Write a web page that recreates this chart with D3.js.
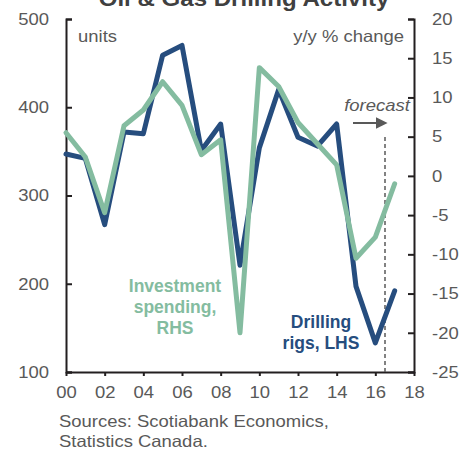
<!DOCTYPE html>
<html lang="en">
<head>
<meta charset="utf-8">
<title>Oil & Gas Drilling Activity</title>
<script src="https://d3js.org/d3.v7.min.js"></script>
<style>
  body { margin: 0; background: #fff; }
  svg text { font-family: "Liberation Sans", Arial, sans-serif; }
  .axis path, .axis line { stroke: #231f20; stroke-width: 2; fill: none; }
  .axis text { font-size: 16.5px; fill: #595959; }
</style>
</head>
<body>
<script>
// years 2000..2017
var years = [2000, 2001, 2002, 2003, 2004, 2005, 2006, 2007, 2008,
             2009, 2010, 2011, 2012, 2013, 2014, 2015, 2016, 2017];
// drilling rigs, units (LHS)
var rigs = [347, 342, 267, 372, 370, 459, 470, 351, 381,
            221, 354, 420, 366, 356, 381, 197, 133, 192];
// investment spending, y/y % change (RHS)
var invest = [5.5, 2.4, -4.7, 6.4, 8.4, 12.0, 9.0, 2.7, 4.6,
              -20.0, 13.8, 11.4, 6.8, 4.1, 1.4, -10.5, -7.8, -1.0];
var xTicks = [2000, 2002, 2004, 2006, 2008, 2010, 2012, 2014, 2016, 2018];
var leftTicks = [100, 200, 300, 400, 500];
var rightTicks = [-25, -20, -15, -10, -5, 0, 5, 10, 15, 20];
var forecastYear = 2016.5;

var W = 459, H = 449;
var m = {left: 66, right: 414, top: 19, bottom: 372};
var K = 1.12; // the original text is a bit wider than Arial

var svg = d3.select("body").append("svg")
    .attr("width", W).attr("height", H);

var x = d3.scaleLinear().domain([2000, 2018]).range([m.left, m.right]);
var yL = d3.scaleLinear().domain([100, 500]).range([m.bottom, m.top]);
var yR = d3.scaleLinear().domain([-25, 20]).range([m.bottom, m.top]);

// widen a text around its own anchor point
function stretch(sel) {
    sel.each(function() {
        var t = d3.select(this);
        var tx = +t.attr("x") || 0, ty = +t.attr("y") || 0;
        t.attr("x", 0).attr("y", 0)
         .attr("transform", "translate(" + tx + "," + ty + ") scale(" + K + ",1)");
    });
}

function label(px, py, s, anchor) {
    return svg.append("text").attr("x", px).attr("y", py)
        .attr("text-anchor", anchor || "start")
        .style("font-size", "16.5px").style("fill", "#595959")
        .text(s).call(stretch);
}

// title (cut off at top in the original)
svg.append("text")
    .attr("x", 244).attr("y", 6)
    .attr("text-anchor", "middle")
    .style("font-size", "21.5px").style("font-weight", "bold")
    .style("fill", "#404040")
    .text("Oil & Gas Drilling Activity")
    .call(stretch);

// axes
svg.append("g").attr("class", "axis")
    .attr("transform", "translate(" + m.left + ",0)")
    .call(d3.axisRight(yL).tickValues(leftTicks).tickSize(6).tickSizeOuter(6))
    .call(function(g) {
        g.selectAll("text").attr("x", -17).attr("text-anchor", "end").call(stretch);
    });

svg.append("g").attr("class", "axis")
    .attr("transform", "translate(" + m.right + ",0)")
    .call(d3.axisLeft(yR).tickValues(rightTicks).tickSize(6).tickSizeOuter(6)
        .tickFormat(function(d) { return String(d); }))
    .call(function(g) {
        g.selectAll("text").attr("x", 18).attr("text-anchor", "start").call(stretch);
    });

svg.append("g").attr("class", "axis")
    .attr("transform", "translate(0," + m.bottom + ")")
    .call(d3.axisBottom(x).tickValues(xTicks).tickSize(4).tickSizeOuter(0)
        .tickFormat(function(d) { return d3.format("02")(d % 100); }))
    .call(function(g) {
        g.selectAll("text").attr("y", 14).call(stretch);
    });

// unit labels
label(78, 42, "units");
label(404, 42, "y/y % change", "end");

// forecast marker
svg.append("line")
    .attr("x1", x(forecastYear)).attr("x2", x(forecastYear))
    .attr("y1", 137).attr("y2", m.bottom)
    .attr("stroke", "#595959").attr("stroke-width", 1.5)
    .attr("stroke-dasharray", "4,3");
svg.append("defs").append("marker")
    .attr("id", "arr").attr("viewBox", "0 0 10 10")
    .attr("refX", 2).attr("refY", 5)
    .attr("markerWidth", 6).attr("markerHeight", 6)
    .attr("orient", "auto")
    .append("path").attr("d", "M0,0L10,5L0,10Z").attr("fill", "#595959");
svg.append("line")
    .attr("x1", 353).attr("x2", 378).attr("y1", 123).attr("y2", 123)
    .attr("stroke", "#595959").attr("stroke-width", 2)
    .attr("marker-end", "url(#arr)");
label(377, 111, "forecast", "middle").style("font-style", "italic");

// lines
var blue = "#264d7e", green = "#84bca0";
var lineL = d3.line().x(function(d, i) { return x(years[i]); }).y(function(d) { return yL(d); });
var lineR = d3.line().x(function(d, i) { return x(years[i]); }).y(function(d) { return yR(d); });

svg.append("path").datum(rigs)
    .attr("d", lineL).attr("fill", "none")
    .attr("stroke", blue).attr("stroke-width", 5)
    .attr("stroke-linejoin", "round").attr("stroke-linecap", "round");
svg.append("path").datum(invest)
    .attr("d", lineR).attr("fill", "none")
    .attr("stroke", green).attr("stroke-width", 5)
    .attr("stroke-linejoin", "round").attr("stroke-linecap", "round");

// series labels
function multi(lines, cx, cy, color) {
    var t = svg.append("text").attr("text-anchor", "middle")
        .style("font-size", "17.5px").style("font-weight", "bold").style("fill", color);
    lines.forEach(function(s, i) {
        t.append("tspan").attr("x", cx).attr("y", cy + i * 21).text(s);
    });
}
multi(["Investment", "spending,", "RHS"], 175, 292, green);
multi(["Drilling", "rigs, LHS"], 321, 328, blue);

// sources
label(59, 427, "Sources: Scotiabank Economics,");
label(59, 447, "Statistics Canada.");
</script>
</body>
</html>
